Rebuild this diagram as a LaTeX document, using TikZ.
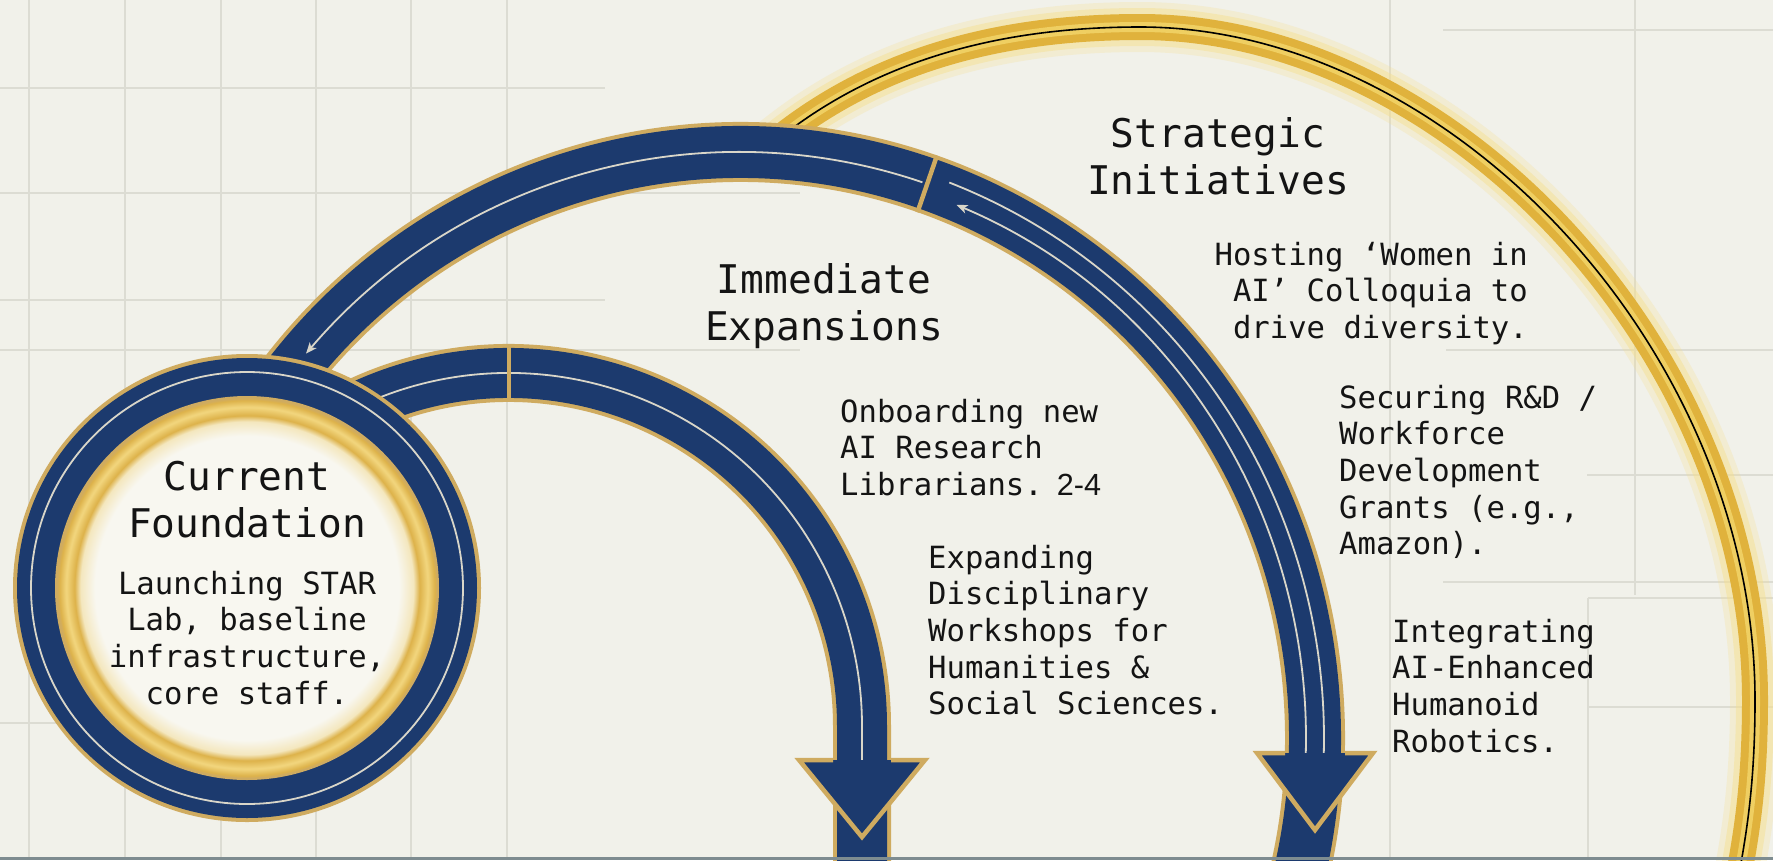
\documentclass[tikz,border=0pt]{standalone}
\usepackage{fontspec}
\newfontfamily\monof{DejaVu Sans Mono}
\newfontfamily\sansf{Liberation Sans}
\usetikzlibrary{arrows.meta}
\definecolor{bgc}{HTML}{F1F1EA}
\definecolor{gridc}{HTML}{DCDCD3}
\definecolor{navy}{HTML}{1C3A6E}
\definecolor{goldb}{HTML}{CFAB60}
\definecolor{lightl}{HTML}{D9D6C9}
\definecolor{arcgold}{HTML}{E0B23C}
\definecolor{archi}{HTML}{EFCF62}
\definecolor{glowc}{HTML}{F5DF8E}
\definecolor{ink}{HTML}{141414}
\definecolor{creamc}{HTML}{F8F7F0}
\definecolor{creamgold}{HTML}{F4E7BE}
\definecolor{ringgold}{HTML}{DDB24A}
\definecolor{ringhi}{HTML}{F2D67E}
\definecolor{stripc}{HTML}{7E8C90}
\pgfdeclareradialshading{innerglow}{\pgfpoint{0bp}{0bp}}{color(0bp)=(creamc); color(20bp)=(creamc); color(21.9bp)=(creamgold); color(22.7bp)=(ringgold); color(23.8bp)=(ringhi); color(24.7bp)=(ringgold); color(25bp)=(goldb); color(50bp)=(goldb)}
\newcommand\lines[2]{\begin{tabular}[t]{@{}#1@{}}#2\end{tabular}}
\newcommand\goldarc[1]{\draw[#1] (765,150) .. controls (870,60) and (1000,27) .. (1140,27) .. controls (1450,27) and (1755,350) .. (1755,700) .. controls (1755,790) and (1745,840) .. (1738,880);}
\newcommand\bigband[1]{\draw[#1] (BC) ++(-146:575 and 586) arc[start angle=-146, end angle=16, x radius=575, y radius=586];}
\newcommand\smallband[1]{\draw[#1] (SC) ++(-120:353) arc[start angle=-120, end angle=0, radius=353] -- (862,880);}
\begin{document}
\begin{tikzpicture}[x=1pt,y=-1pt,
  gridline/.style={gridc, line width=1.2pt},
  lightline/.style={lightl, line width=1.8pt},
  divider/.style={goldb, line width=4.5pt},
  headline/.style={goldb, line width=4.5pt, line join=miter},
  tipstyle/.style={-{Stealth[length=11pt,width=9pt,inset=3pt]}},
  title/.style={font=\monof\fontsize{39.5}{47.5}\selectfont, text=ink, inner sep=0pt},
  body/.style={font=\monof\fontsize{30.6}{36.7}\selectfont, text=ink, inner sep=0pt}]
\useasboundingbox (0,0) rectangle (1773,860);
\clip (0,0) rectangle (1773,860);
\fill[bgc] (0,0) rectangle (1773,860);
% grid
\begin{scope}[gridline]
  \foreach \x in {29,125,221,316,411,507} \draw (\x,0) -- (\x,860);
  \foreach \y in {88,300} \draw (0,\y) -- (605,\y);
  \foreach \y in {193,350} \draw (0,\y) -- (800,\y);
  \draw (0,723) -- (120,723);
  \draw (1390,0) -- (1390,860);
  \draw (1635,0) -- (1635,595);
  \draw (1588,598) -- (1588,860);
  \draw (1443,30) -- (1773,30);
  \draw (1446,350) -- (1773,350);
  \draw (1587,475) -- (1773,475);
  \draw (1443,582) -- (1773,582);
  \draw (1588,598) -- (1773,598);
  \draw (1588,707) -- (1773,707);
\end{scope}
% outer gold arc with glow
\goldarc{glowc, line width=50pt, opacity=0.25}
\goldarc{glowc, line width=38pt, opacity=0.45}
\goldarc{arcgold, line width=26pt}
\goldarc{archi, line width=10pt}
\goldarc{black, line width=1.6pt}
% big navy arc (Strategic)
\coordinate (BC) at (740,738);
\bigband{goldb, line width=60pt}
\bigband{navy, line width=52pt}
\draw[lightline, tipstyle] (BC) ++(-71.5:575 and 586) arc[start angle=-71.5, end angle=-139, x radius=575, y radius=586];
\draw[lightline] (BC) ++(-69:584 and 595) arc[start angle=-69, end angle=1.8, x radius=584, y radius=595];
\draw[lightline, tipstyle] (BC) ++(1.8:566 and 577) arc[start angle=1.8, end angle=-67.5, x radius=566, y radius=577];
\path (BC) ++(-71:545 and 556) coordinate (bd1) (BC) ++(-71:605 and 616) coordinate (bd2);
\draw[divider] (bd1) -- (bd2);
% right arrow head
\coordinate (rtip) at (1315,830);
\fill[navy] (1257,753) -- (1373,753) -- (rtip) -- cycle;
\draw[headline] (1285,753) -- (1257,753) -- (rtip) -- (1373,753) -- (1345,753);
% small navy arc (Immediate)
\coordinate (SC) at (509,726);
\smallband{goldb, line width=58pt}
\smallband{navy, line width=50pt}
\draw[lightline] (SC) ++(-120:353) arc[start angle=-120, end angle=0, radius=353] -- (862,760);
\path (SC) ++(-90:324) coordinate (sd1) (SC) ++(-90:382) coordinate (sd2);
\draw[divider] (sd1) -- (sd2);
% left arrow head
\coordinate (ltip) at (862,837);
\fill[navy] (799,760) -- (925,760) -- (ltip) -- cycle;
\draw[headline] (833,760) -- (799,760) -- (ltip) -- (925,760) -- (891,760);
% current foundation circle
\coordinate (FC) at (247,588);
\fill[goldb] (FC) circle[radius=234];
\fill[navy] (FC) circle[radius=230];
\draw[lightline] (FC) circle[radius=216];
\fill[goldb] (FC) circle[radius=192];
\shade[shading=innerglow] (FC) circle[radius=190];
% texts
\node[title, anchor=base] (cf) at (247,490) {\lines{c}{Current\\Foundation}};
\node[body, anchor=base] (cfb) at (247,594) {\lines{c}{Launching STAR\\Lab, baseline\\infrastructure,\\core staff.}};
\node[title, anchor=base] (ie) at (824,293) {\lines{c}{Immediate\\Expansions}};
\node[body, anchor=base west] (onb) at (840,422) {\lines{l}{Onboarding new\\AI Research\\Librarians.\hspace{14pt}{\sansf 2-4}}};
\node[body, anchor=base west] (exp) at (928,568) {\lines{l}{Expanding\\Disciplinary\\Workshops for\\Humanities \&\\Social Sciences.}};
\node[title, anchor=base] (si) at (1218,147) {\lines{c}{Strategic\\Initiatives}};
\node[body, anchor=base east] (host) at (1528,265) {\lines{r}{Hosting ‘Women in\\AI’ Colloquia to\\drive diversity.}};
\node[body, anchor=base west] (sec) at (1339,408) {\lines{l}{Securing R\&D /\\Workforce\\Development\\Grants (e.g.,\\Amazon).}};
\node[body, anchor=base west] (integ) at (1392,642) {\lines{l}{Integrating\\AI-Enhanced\\Humanoid\\Robotics.}};
\fill[stripc] (0,857) rectangle (1773,860);
\end{tikzpicture}
\end{document}
